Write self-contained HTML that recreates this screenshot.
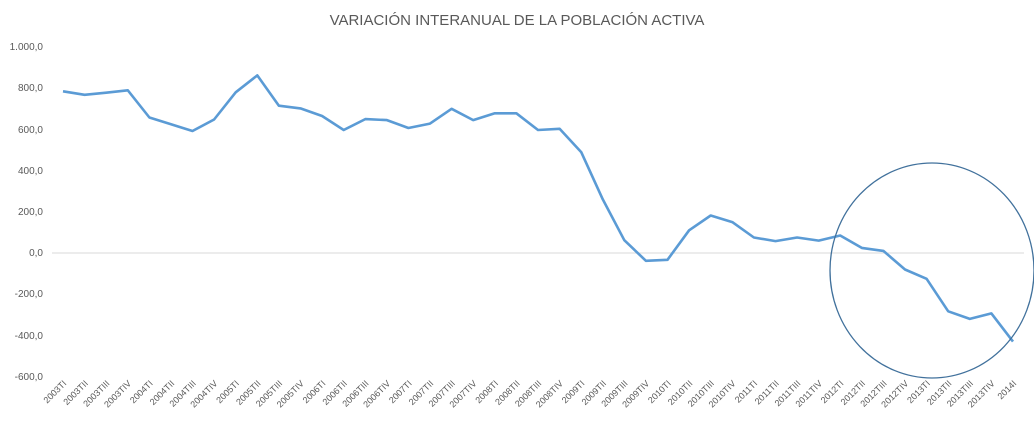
<!DOCTYPE html>
<html><head><meta charset="utf-8"><style>
html,body{margin:0;padding:0;background:#fff;}
svg{display:block;font-family:"Liberation Sans",sans-serif;}
</style></head><body>
<svg width="1034" height="428" viewBox="0 0 1034 428">
<text x="517" y="25" text-anchor="middle" font-size="15" fill="#595959">VARIACIÓN INTERANUAL DE LA POBLACIÓN ACTIVA</text>
<g font-size="10" fill="#595959" text-anchor="end">
<text x="43" y="50">1.000,0</text>
<text x="43" y="91">800,0</text>
<text x="43" y="133">600,0</text>
<text x="43" y="174">400,0</text>
<text x="43" y="215">200,0</text>
<text x="43" y="256">0,0</text>
<text x="43" y="297">-200,0</text>
<text x="43" y="339">-400,0</text>
<text x="43" y="380">-600,0</text>
</g>
<line x1="52" y1="253" x2="1024" y2="253" stroke="#d9d9d9" stroke-width="1"/>
<polyline fill="none" stroke="#5b9bd5" stroke-width="2.6" stroke-linejoin="round" points="63,91.3 84.6,94.8 106.2,92.7 127.8,90.3 149.4,117.5 171,124.3 192.5,131 214.1,119.5 235.7,92.3 257.3,75.4 278.9,105.7 300.5,108.4 322.1,116 343.7,130 365.3,119.1 386.9,120.1 408.4,128 430,123.6 451.6,108.8 473.2,120.1 494.8,113.3 516.4,113.3 538,130 559.6,128.8 581.2,152.1 602.8,199.4 624.3,240.2 645.9,260.8 667.5,259.8 689.1,230.3 710.7,215.5 732.3,222.1 753.9,237.5 775.5,241.1 797.1,237.5 818.7,240.6 840.2,235.5 861.8,247.9 883.4,250.9 905,269.5 926.6,278.8 948.2,311.3 969.8,318.9 991.4,313.4 1013,341.6"/>
<ellipse cx="932" cy="270.5" rx="102" ry="107.5" fill="none" stroke="#41719c" stroke-width="1.3"/>
<g font-size="9" fill="#595959" text-anchor="end">
<text transform="translate(67,384) rotate(-45)">2003TI</text>
<text transform="translate(88.6,384) rotate(-45)">2003TII</text>
<text transform="translate(110.2,384) rotate(-45)">2003TIII</text>
<text transform="translate(131.8,384) rotate(-45)">2003TIV</text>
<text transform="translate(153.4,384) rotate(-45)">2004TI</text>
<text transform="translate(175,384) rotate(-45)">2004TII</text>
<text transform="translate(196.5,384) rotate(-45)">2004TIII</text>
<text transform="translate(218.1,384) rotate(-45)">2004TIV</text>
<text transform="translate(239.7,384) rotate(-45)">2005TI</text>
<text transform="translate(261.3,384) rotate(-45)">2005TII</text>
<text transform="translate(282.9,384) rotate(-45)">2005TIII</text>
<text transform="translate(304.5,384) rotate(-45)">2005TIV</text>
<text transform="translate(326.1,384) rotate(-45)">2006TI</text>
<text transform="translate(347.7,384) rotate(-45)">2006TII</text>
<text transform="translate(369.3,384) rotate(-45)">2006TIII</text>
<text transform="translate(390.9,384) rotate(-45)">2006TIV</text>
<text transform="translate(412.4,384) rotate(-45)">2007TI</text>
<text transform="translate(434,384) rotate(-45)">2007TII</text>
<text transform="translate(455.6,384) rotate(-45)">2007TIII</text>
<text transform="translate(477.2,384) rotate(-45)">2007TIV</text>
<text transform="translate(498.8,384) rotate(-45)">2008TI</text>
<text transform="translate(520.4,384) rotate(-45)">2008TII</text>
<text transform="translate(542,384) rotate(-45)">2008TIII</text>
<text transform="translate(563.6,384) rotate(-45)">2008TIV</text>
<text transform="translate(585.2,384) rotate(-45)">2009TI</text>
<text transform="translate(606.8,384) rotate(-45)">2009TII</text>
<text transform="translate(628.3,384) rotate(-45)">2009TIII</text>
<text transform="translate(649.9,384) rotate(-45)">2009TIV</text>
<text transform="translate(671.5,384) rotate(-45)">2010TI</text>
<text transform="translate(693.1,384) rotate(-45)">2010TII</text>
<text transform="translate(714.7,384) rotate(-45)">2010TIII</text>
<text transform="translate(736.3,384) rotate(-45)">2010TIV</text>
<text transform="translate(757.9,384) rotate(-45)">2011TI</text>
<text transform="translate(779.5,384) rotate(-45)">2011TII</text>
<text transform="translate(801.1,384) rotate(-45)">2011TIII</text>
<text transform="translate(822.7,384) rotate(-45)">2011TIV</text>
<text transform="translate(844.2,384) rotate(-45)">2012TI</text>
<text transform="translate(865.8,384) rotate(-45)">2012TII</text>
<text transform="translate(887.4,384) rotate(-45)">2012TIII</text>
<text transform="translate(909,384) rotate(-45)">2012TIV</text>
<text transform="translate(930.6,384) rotate(-45)">2013TI</text>
<text transform="translate(952.2,384) rotate(-45)">2013TII</text>
<text transform="translate(973.8,384) rotate(-45)">2013TIII</text>
<text transform="translate(995.4,384) rotate(-45)">2013TIV</text>
<text transform="translate(1017,384) rotate(-45)">2014I</text>
</g>
</svg>
</body></html>
